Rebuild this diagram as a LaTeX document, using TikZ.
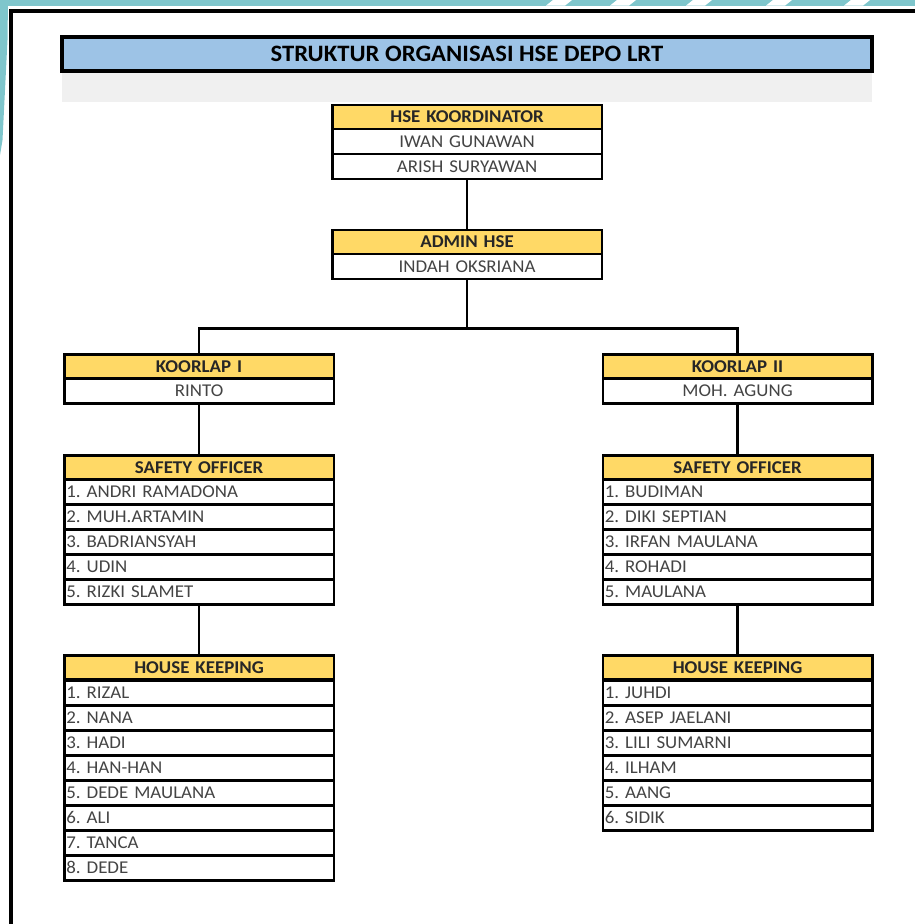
\documentclass[tikz,border=0pt]{standalone}
\usepackage{fontspec}
\setmainfont{Carlito}[FakeStretch=1.05]
\frenchspacing
\definecolor{hdrfill}{HTML}{FFD966}
\definecolor{titlefill}{HTML}{9DC3E6}
\definecolor{bandfill}{HTML}{F0F0F0}
\definecolor{wmteal}{HTML}{7FC6CC}
\definecolor{nametext}{HTML}{444444}
\definecolor{hdrtext}{HTML}{262626}
\begin{document}
\begin{tikzpicture}[x=1pt,y=-1pt,
  cell/.style={draw=black, line width=2.6pt, fill=white, anchor=north west,
    minimum height=25pt, inner xsep=2pt, inner ysep=0pt, text width=265.5pt,
    font=\fontsize{18}{18}\selectfont, text=nametext},
  namecell/.style={cell, align=left},
  midcell/.style={cell, align=center},
  headcell/.style={cell, align=center, fill=hdrfill, minimum height=24pt,
    font=\fontsize{18}{18}\selectfont\bfseries, text=hdrtext},
  link/.style={draw=black, line width=2.8pt}]
\useasboundingbox (0,0) rectangle (915,924);
\clip (0,0) rectangle (915,924);

% watermark strips along the top and left edges
\fill[wmteal] (0,0) rectangle (915,5.5);
\foreach \gx in {548,612,688,768,846}
  \fill[white] (\gx+5,0) -- (\gx+24,0) -- (\gx+17,5.6) -- (\gx-2,5.6) -- cycle;
\fill[wmteal] (0,0) -- (8,0) -- (7.5,40) -- (5,90) -- (2.5,140) -- (0,155) -- cycle;

% page frame
\draw[line width=4pt] (11,980) -- (11,10.5) -- (980,10.5);

% title bar and grey band
\fill[bandfill] (62,71) rectangle (872,102);
\node[draw=black, line width=3.5pt, fill=titlefill, minimum width=810pt,
  minimum height=34pt, inner sep=0pt, font=\fontsize{23.5}{23.5}\selectfont\bfseries]
  (title) at (467,54) {STRUKTUR ORGANISASI HSE DEPO LRT};

% HSE koordinator
\node[headcell] (kor0) at (331,103.5) {HSE KOORDINATOR};
\node[midcell]  (kor1) at (331,127.5) {IWAN GUNAWAN};
\node[midcell]  (kor2) at (331,152.5) {ARISH SURYAWAN};

% admin
\node[headcell] (adm0) at (331,228.5) {ADMIN HSE};
\node[midcell]  (adm1) at (331,252.5) {INDAH OKSRIANA};

% koorlap
\node[headcell] (kl0) at (63,353) {KOORLAP I};
\node[midcell]  (kl1) at (63,377) {RINTO};
\node[headcell] (kr0) at (601.5,353) {KOORLAP II};
\node[midcell]  (kr1) at (601.5,377) {MOH. AGUNG};

% safety officers
\node[headcell] (sl0) at (63,454) {SAFETY OFFICER};
\node[namecell] (sl1) at (63,478) {1. ANDRI RAMADONA};
\node[namecell] (sl2) at (63,503) {2. MUH.ARTAMIN};
\node[namecell] (sl3) at (63,528) {3. BADRIANSYAH};
\node[namecell] (sl4) at (63,553) {4. UDIN};
\node[namecell] (sl5) at (63,578) {5. RIZKI SLAMET};

\node[headcell] (sr0) at (601.5,454) {SAFETY OFFICER};
\node[namecell] (sr1) at (601.5,478) {1. BUDIMAN};
\node[namecell] (sr2) at (601.5,503) {2. DIKI SEPTIAN};
\node[namecell] (sr3) at (601.5,528) {3. IRFAN MAULANA};
\node[namecell] (sr4) at (601.5,553) {4. ROHADI};
\node[namecell] (sr5) at (601.5,578) {5. MAULANA};

% house keeping
\node[headcell] (hl0) at (63,654) {HOUSE KEEPING};
\node[namecell] (hl1) at (63,679) {1. RIZAL};
\node[namecell] (hl2) at (63,704) {2. NANA};
\node[namecell] (hl3) at (63,729) {3. HADI};
\node[namecell] (hl4) at (63,754) {4. HAN-HAN};
\node[namecell] (hl5) at (63,779) {5. DEDE MAULANA};
\node[namecell] (hl6) at (63,804) {6. ALI};
\node[namecell] (hl7) at (63,829) {7. TANCA};
\node[namecell] (hl8) at (63,854) {8. DEDE};

\node[headcell] (hr0) at (601.5,654) {HOUSE KEEPING};
\node[namecell] (hr1) at (601.5,679) {1. JUHDI};
\node[namecell] (hr2) at (601.5,704) {2. ASEP JAELANI};
\node[namecell] (hr3) at (601.5,729) {3. LILI SUMARNI};
\node[namecell] (hr4) at (601.5,754) {4. ILHAM};
\node[namecell] (hr5) at (601.5,779) {5. AANG};
\node[namecell] (hr6) at (601.5,804) {6. SIDIK};

% connectors; the fork sits straight below the admin box
\path (adm1.south) ++(0,48) coordinate (fork);
\draw[link] (kor2.south) -- (adm0.north);
\draw[link] (adm1.south) -- (fork);
\draw[link] (kl0.north) |- (fork) -| (kr0.north);
\draw[link] (kl1.south) -- (sl0.north);
\draw[link] (kr1.south) -- (sr0.north);
\draw[link] (sl5.south) -- (hl0.north);
\draw[link] (sr5.south) -- (hr0.north);
\end{tikzpicture}
\end{document}
